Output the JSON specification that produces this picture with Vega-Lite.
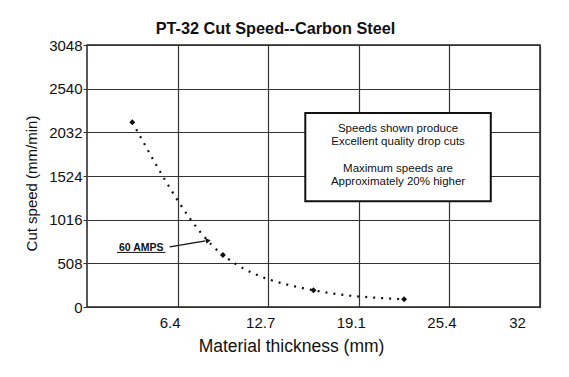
{
  "$schema": "https://vega.github.io/schema/vega-lite/v6.json",
  "autosize": "none",
  "width": 453,
  "height": 262,
  "padding": {"left": 87, "top": 45, "right": 29, "bottom": 70},
  "background": "white",
  "config": {
    "font": "Liberation Sans",
    "view": {"stroke": "#222", "strokeWidth": 1.5}
  },
  "title": {
    "text": "PT-32 Cut Speed--Carbon Steel",
    "fontSize": 16.3,
    "fontWeight": "bold",
    "color": "#111",
    "anchor": "middle",
    "dx": -38,
    "dy": 7,
    "offset": 8
  },
  "datasets": {
    "cut": [
      {"thickness": 3.175, "speed": 2150},
      {"thickness": 9.525, "speed": 605},
      {"thickness": 15.875, "speed": 195},
      {"thickness": 22.225, "speed": 90}
    ]
  },
  "layer": [
    {
      "data": {"name": "cut"},
      "mark": {"type": "line", "interpolate": "monotone", "color": "#111", "strokeWidth": 2.2, "strokeDash": [2, 6]},
      "encoding": {
        "x": {
          "field": "thickness", "type": "quantitative",
          "scale": {"domain": [0, 31.75], "nice": false, "zero": true},
          "axis": {
            "title": "Material thickness (mm)",
            "titleFontSize": 17.5, "titleFontWeight": "normal", "titleColor": "#111",
            "titleX": 204, "titleY": 39, "titleAlign": "center", "titleBaseline": "middle",
            "values": [6.35, 12.7, 19.05, 25.4, 31.75],
            "labelExpr": "datum.value < 7 ? '6.4' : datum.value < 13 ? '12.7' : datum.value < 20 ? '19.1' : datum.value < 26 ? '25.4' : '32'",
            "labelFontSize": 15, "labelColor": "#111", "labelPadding": 8,
            "labelOffset": {"condition": {"test": "datum.value > 31", "value": -23}, "value": -8},
            "labelFlush": false,
            "grid": true, "gridColor": "#333", "gridWidth": 1.2,
            "domain": false, "ticks": false
          }
        },
        "y": {
          "field": "speed", "type": "quantitative",
          "scale": {"domain": [0, 3048], "nice": false},
          "axis": {
            "title": "Cut speed (mm/min)",
            "titleFontSize": 15, "titleFontWeight": "normal", "titleColor": "#111",
            "titleX": -56, "titleY": 138, "titleAlign": "center", "titleBaseline": "middle",
            "values": [0, 508, 1016, 1524, 2032, 2540, 3048],
            "format": "d",
            "labelFontSize": 15, "labelColor": "#111", "labelPadding": 1,
            "grid": true, "gridColor": "#333", "gridWidth": 1.2,
            "domain": false, "ticks": true, "tickSize": 4, "tickColor": "#333"
          }
        }
      }
    },
    {
      "data": {"name": "cut"},
      "mark": {"type": "point", "shape": "diamond", "filled": true, "color": "#111", "size": 35, "opacity": 1},
      "encoding": {
        "x": {"field": "thickness", "type": "quantitative"},
        "y": {"field": "speed", "type": "quantitative"}
      }
    },
    {
      "data": {"values": [{}]},
      "mark": {"type": "rect", "fill": "white", "stroke": "#111", "strokeWidth": 2},
      "encoding": {
        "x": {"datum": 15.3, "type": "quantitative"},
        "x2": {"datum": 28.3},
        "y": {"datum": 2256, "type": "quantitative"},
        "y2": {"datum": 1229}
      }
    },
    {
      "data": {"values": [{}]},
      "mark": {"type": "text", "text": "Speeds shown produce", "fontSize": 11.5, "align": "center", "baseline": "middle", "color": "#111"},
      "encoding": {"x": {"datum": 21.8, "type": "quantitative"}, "y": {"datum": 2074, "type": "quantitative"}}
    },
    {
      "data": {"values": [{}]},
      "mark": {"type": "text", "text": "Excellent quality drop cuts", "fontSize": 11.5, "align": "center", "baseline": "middle", "color": "#111"},
      "encoding": {"x": {"datum": 21.8, "type": "quantitative"}, "y": {"datum": 1922, "type": "quantitative"}}
    },
    {
      "data": {"values": [{}]},
      "mark": {"type": "text", "text": "Maximum speeds are", "fontSize": 11.5, "align": "center", "baseline": "middle", "color": "#111"},
      "encoding": {"x": {"datum": 21.8, "type": "quantitative"}, "y": {"datum": 1606, "type": "quantitative"}}
    },
    {
      "data": {"values": [{}]},
      "mark": {"type": "text", "text": "Approximately 20% higher", "fontSize": 11.5, "align": "center", "baseline": "middle", "color": "#111"},
      "encoding": {"x": {"datum": 21.8, "type": "quantitative"}, "y": {"datum": 1454, "type": "quantitative"}}
    },
    {
      "data": {"values": [{}]},
      "mark": {"type": "text", "text": "60 AMPS", "fontSize": 10.5, "fontWeight": "bold", "align": "center", "baseline": "middle", "color": "#111"},
      "encoding": {
        "x": {"datum": 3.8, "type": "quantitative"},
        "y": {"datum": 690, "type": "quantitative"}
      }
    },
    {
      "data": {"values": [{}]},
      "mark": {"type": "rule", "color": "#111", "strokeWidth": 1},
      "encoding": {
        "x": {"datum": 2.1, "type": "quantitative"},
        "x2": {"datum": 5.5},
        "y": {"datum": 635, "type": "quantitative"}
      }
    },
    {
      "data": {"values": [{}]},
      "mark": {"type": "rule", "color": "#111", "strokeWidth": 1.3},
      "encoding": {
        "x": {"datum": 5.8, "type": "quantitative"},
        "x2": {"datum": 8.3},
        "y": {"datum": 699, "type": "quantitative"},
        "y2": {"datum": 770}
      }
    },
    {
      "data": {"values": [{}]},
      "mark": {"type": "point", "shape": "triangle-right", "filled": true, "color": "#111", "size": 30, "angle": -9, "opacity": 1},
      "encoding": {
        "x": {"datum": 8.5, "type": "quantitative"},
        "y": {"datum": 773, "type": "quantitative"}
      }
    }
  ]
}
